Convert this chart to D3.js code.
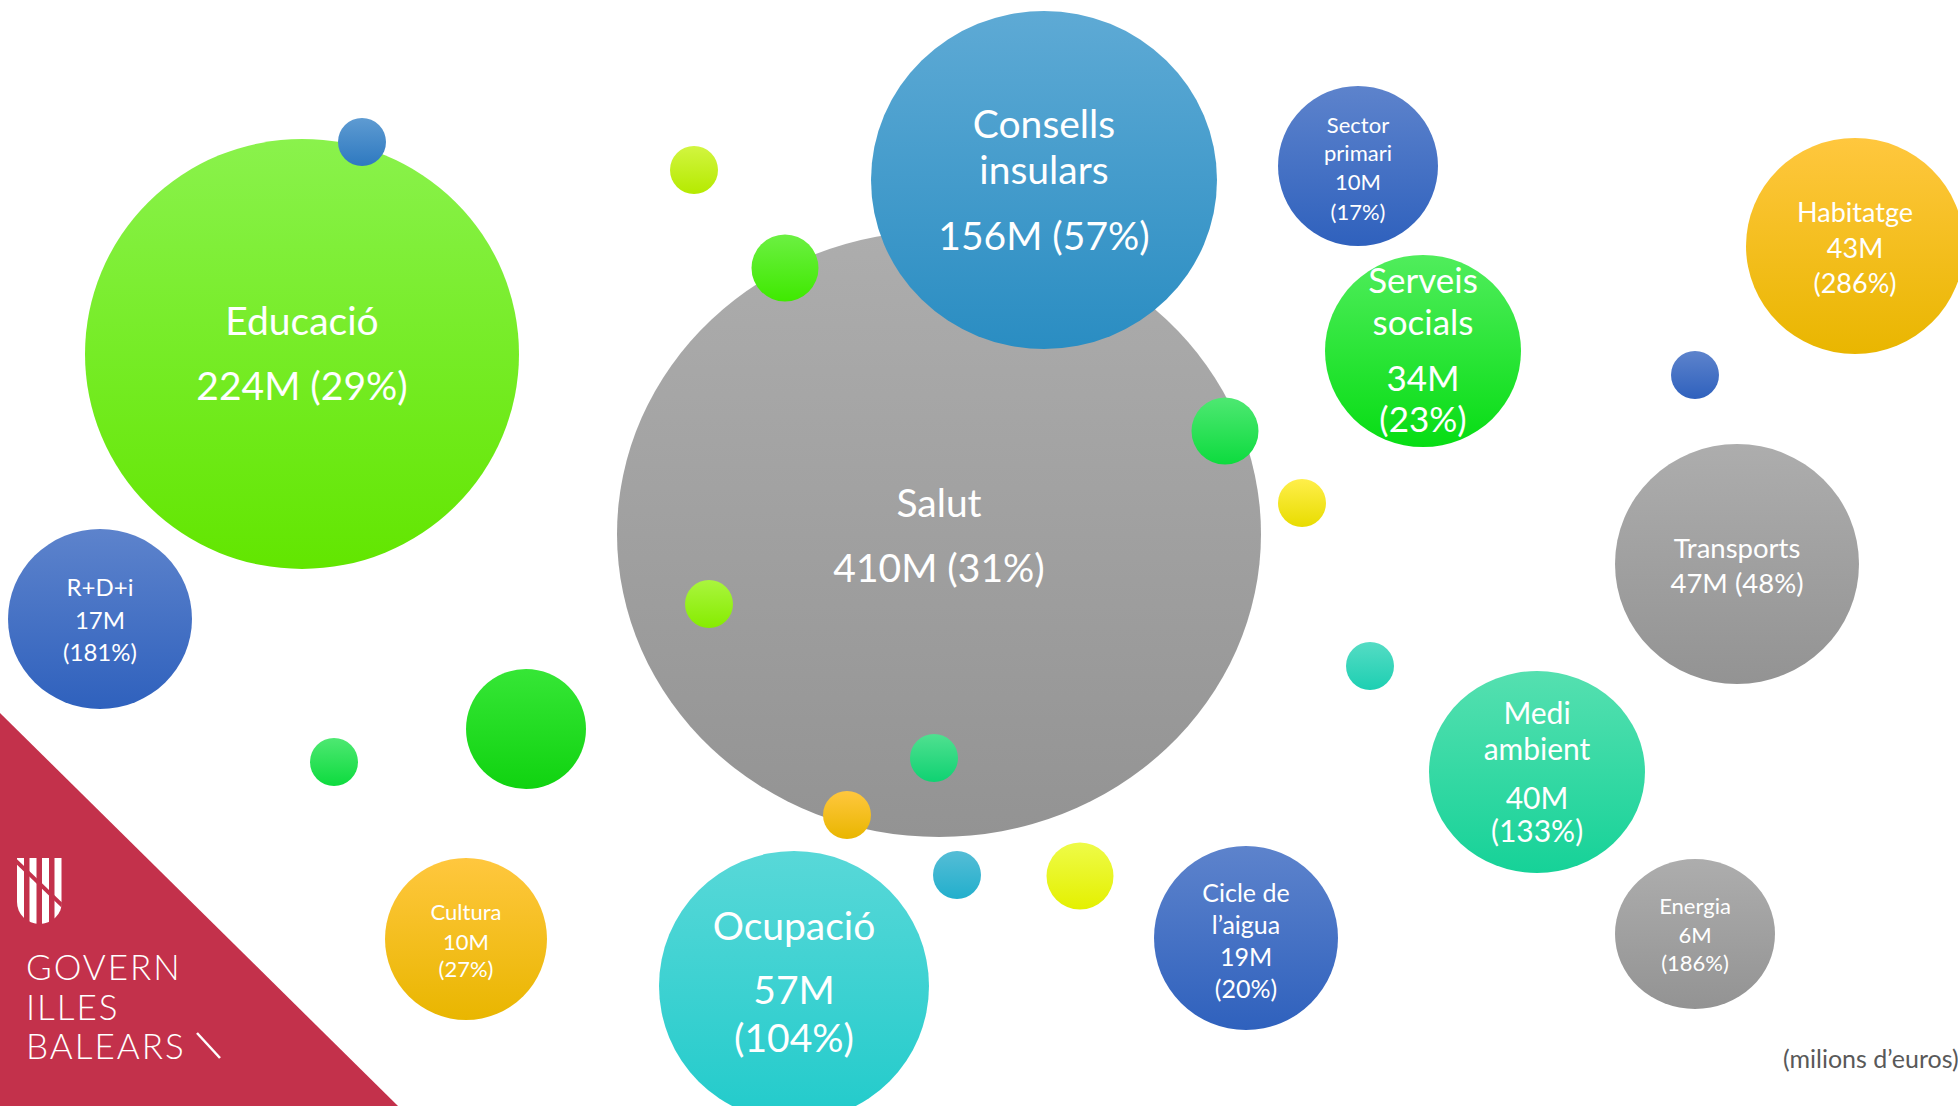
<!DOCTYPE html>
<html>
<head>
<meta charset="utf-8">
<script src="https://cdn.jsdelivr.net/npm/d3@7"></script>
<style>
html, body { margin: 0; padding: 0; background: #fff; overflow: hidden; }
svg { display: block; font-family: Lato, "Open Sans", sans-serif; }
</style>
</head>
<body>
<script>
// data (milions d'euros, % variation)
var areas   = ["Educació", "Salut", "Consells insulars", "Ocupació", "Transports", "Habitatge",
               "Medi ambient", "Serveis socials", "Cicle de l’aigua", "R+D+i", "Sector primari",
               "Cultura", "Energia"];
var amounts = [224, 410, 156, 57, 47, 43, 40, 34, 19, 17, 10, 10, 6];
var growth  = [29, 31, 57, 104, 48, 286, 133, 23, 20, 181, 17, 27, 186];
var nameLines = [["Educació"], ["Salut"], ["Consells", "insulars"], ["Ocupació"], ["Transports"],
                 ["Habitatge"], ["Medi", "ambient"], ["Serveis", "socials"], ["Cicle de", "l’aigua"],
                 ["R+D+i"], ["Sector", "primari"], ["Cultura"], ["Energia"]];
var unitNote = "(milions d’euros)";
var logoLines = ["GOVERN", "ILLES", "BALEARS"];

// layout of the slide (reference frame 1958 x 1106)
var layout = [
  {x: 302,  y: 354, rx: 217, ry: 215, fs: 39,   c: "edu",    split: false, dys: [-34, 31]},
  {x: 939,  y: 534, rx: 322, ry: 303, fs: 39,   c: "grey",   split: false, dys: [-32, 33]},
  {x: 1044, y: 180, rx: 173, ry: 169, fs: 39,   c: "cons",   split: false, dys: [-57, -11, 55]},
  {x: 794,  y: 986, rx: 135, ry: 135, fs: 39,   c: "ocup",   split: true,  dys: [-61, 3, 51]},
  {x: 1737, y: 564, rx: 122, ry: 120, fs: 27.5, c: "grey",   split: false, dys: [-17, 18]},
  {x: 1855, y: 246, rx: 109, ry: 108, fs: 27,   c: "orange", split: true,  dys: [-35, 1, 36]},
  {x: 1537, y: 772, rx: 108, ry: 101, fs: 30,   c: "medi",   split: true,  dys: [-60, -24, 25, 58]},
  {x: 1423, y: 351, rx: 98,  ry: 96,  fs: 35,   c: "serv",   split: true,  dys: [-72, -30, 26, 67]},
  {x: 1246, y: 938, rx: 92,  ry: 92,  fs: 25,   c: "blue",   split: true,  dys: [-46, -14, 18, 50]},
  {x: 100,  y: 619, rx: 92,  ry: 90,  fs: 24,   c: "blue",   split: true,  dys: [-33, 0, 32]},
  {x: 1358, y: 166, rx: 80,  ry: 80,  fs: 22,   c: "blue",   split: true,  dys: [-42, -14, 15, 45]},
  {x: 466,  y: 939, rx: 81,  ry: 81,  fs: 22,   c: "orange", split: true,  dys: [-28, 2, 29]},
  {x: 1695, y: 934, rx: 80,  ry: 75,  fs: 22,   c: "grey",   split: true,  dys: [-29, 0, 28]}
];

// decorative dots
var dots = [
  {x: 362,  y: 142, r: 24,   c: "blue2"},
  {x: 694,  y: 170, r: 24,   c: "ygreen"},
  {x: 785,  y: 268, r: 33.5, c: "green1"},
  {x: 1225, y: 431, r: 33.5, c: "green2"},
  {x: 1302, y: 503, r: 24,   c: "yellow"},
  {x: 1695, y: 375, r: 24,   c: "blue"},
  {x: 709,  y: 604, r: 24,   c: "lime"},
  {x: 1370, y: 666, r: 24,   c: "teal"},
  {x: 934,  y: 758, r: 24,   c: "gteal"},
  {x: 847,  y: 815, r: 24,   c: "orange"},
  {x: 957,  y: 875, r: 24,   c: "bteal"},
  {x: 1080, y: 876, r: 33.5, c: "yellow2"},
  {x: 526,  y: 729, r: 60,   c: "green3"},
  {x: 334,  y: 762, r: 24,   c: "green2"}
];

var palette = {
  edu:    ["#8af24c", "#62e600"],
  grey:   ["#adadad", "#939393"],
  cons:   ["#5eaad5", "#2a8dc2"],
  ocup:   ["#58d8d8", "#22cbcb"],
  orange: ["#ffc73e", "#e9b600"],
  medi:   ["#55e0b0", "#16d298"],
  serv:   ["#50ed5c", "#07dd14"],
  blue:   ["#5d83cc", "#2f61bd"],
  blue2:  ["#5e9bd2", "#2e79c0"],
  ygreen: ["#d2f540", "#b5ea00"],
  green1: ["#6cf042", "#3fe900"],
  green2: ["#4ee872", "#0ddb3e"],
  green3: ["#36e636", "#10d310"],
  yellow: ["#ffef4a", "#e8dc00"],
  yellow2:["#eefb48", "#e4f000"],
  lime:   ["#aaf53e", "#86ec00"],
  teal:   ["#55dcc4", "#1dcfb2"],
  gteal:  ["#50e090", "#0fd272"],
  bteal:  ["#55bdd6", "#22afcc"]
};

var width = 1958, height = 1106;
var x = d3.scaleLinear().domain([0, 1958]).range([0, width]);
var y = d3.scaleLinear().domain([0, 1106]).range([0, height]);

var svg = d3.select("body").append("svg")
    .attr("width", width)
    .attr("height", height);

svg.append("rect").attr("width", width).attr("height", height).attr("fill", "#fff");

var defs = svg.append("defs");
var grads = defs.selectAll("linearGradient")
    .data(Object.entries(palette))
  .enter().append("linearGradient")
    .attr("id", function(d) { return "g-" + d[0]; })
    .attr("x1", 0).attr("y1", 0).attr("x2", 0).attr("y2", 1);
grads.append("stop").attr("offset", "0%").attr("stop-color", function(d) { return d[1][0]; });
grads.append("stop").attr("offset", "100%").attr("stop-color", function(d) { return d[1][1]; });

// red corner + logo
var tri = d3.path();
tri.moveTo(x(0), y(713));
tri.lineTo(x(398), y(1106));
tri.lineTo(x(0), y(1106));
tri.closePath();
svg.append("path").attr("d", tri.toString()).attr("fill", "#c3314b");

var logo = svg.append("g").attr("transform", "translate(" + x(17) + "," + y(858) + ")");
defs.append("clipPath").attr("id", "shield")
  .append("path").attr("d", "M0,0 H45 V44 A22.5,22 0 0 1 0,44 Z");
var shield = logo.append("g").attr("clip-path", "url(#shield)");
[0, 12.5, 25, 37.5].forEach(function(bx) {
  shield.append("rect").attr("x", bx).attr("y", 0).attr("width", 7).attr("height", 66).attr("fill", "#fff");
});
shield.append("line").attr("x1", -2).attr("y1", 2).attr("x2", 50).attr("y2", 52)
  .attr("stroke", "#c3314b").attr("stroke-width", 4);

svg.selectAll("text.logo")
    .data(logoLines)
  .enter().append("text")
    .attr("class", "logo")
    .attr("x", x(26))
    .attr("y", function(d, i) { return y(980 + i * 39.5); })
    .attr("fill", "#fff")
    .style("font-size", "35px")
    .style("letter-spacing", "2px")
    .style("font-weight", 300)
    .text(function(d) { return d; });
svg.append("line")
    .attr("x1", x(197)).attr("y1", y(1033)).attr("x2", x(220)).attr("y2", y(1058))
    .attr("stroke", "#fff").attr("stroke-width", 2.5);

// bubbles
var bubbles = areas.map(function(a, i) {
  var vals = layout[i].split
      ? [amounts[i] + "M", "(" + growth[i] + "%)"]
      : [amounts[i] + "M (" + growth[i] + "%)"];
  return {name: a, lines: nameLines[i].concat(vals), lay: layout[i]};
});

var bubble = svg.append("g").selectAll("g")
    .data(bubbles)
  .enter().append("g")
    .attr("transform", function(d) { return "translate(" + x(d.lay.x) + "," + y(d.lay.y) + ")"; });

bubble.append("ellipse")
    .attr("rx", function(d) { return x(d.lay.rx); })
    .attr("ry", function(d) { return y(d.lay.ry); })
    .attr("fill", function(d) { return "url(#g-" + d.lay.c + ")"; });

svg.append("g").selectAll("circle")
    .data(dots)
  .enter().append("circle")
    .attr("cx", function(d) { return x(d.x); })
    .attr("cy", function(d) { return y(d.y); })
    .attr("r", function(d) { return x(d.r); })
    .attr("fill", function(d) { return "url(#g-" + d.c + ")"; });

// labels on top
var labels = svg.append("g").selectAll("g")
    .data(bubbles)
  .enter().append("g")
    .attr("transform", function(d) { return "translate(" + x(d.lay.x) + "," + y(d.lay.y) + ")"; });

labels.selectAll("text")
    .data(function(d) { return d.lines.map(function(l, j) { return {t: l, dy: d.lay.dys[j], fs: d.lay.fs}; }); })
  .enter().append("text")
    .attr("text-anchor", "middle")
    .attr("dominant-baseline", "central")
    .attr("y", function(d) { return y(d.dy); })
    .attr("fill", "#fff")
    .style("font-size", function(d) { return d.fs + "px"; })
    .text(function(d) { return d.t; });

svg.append("text")
    .attr("x", x(1783))
    .attr("y", y(1058))
    .attr("dominant-baseline", "central")
    .attr("fill", "#595959")
    .style("font-size", "25px")
    .text(unitNote);
</script>
</body>
</html>
